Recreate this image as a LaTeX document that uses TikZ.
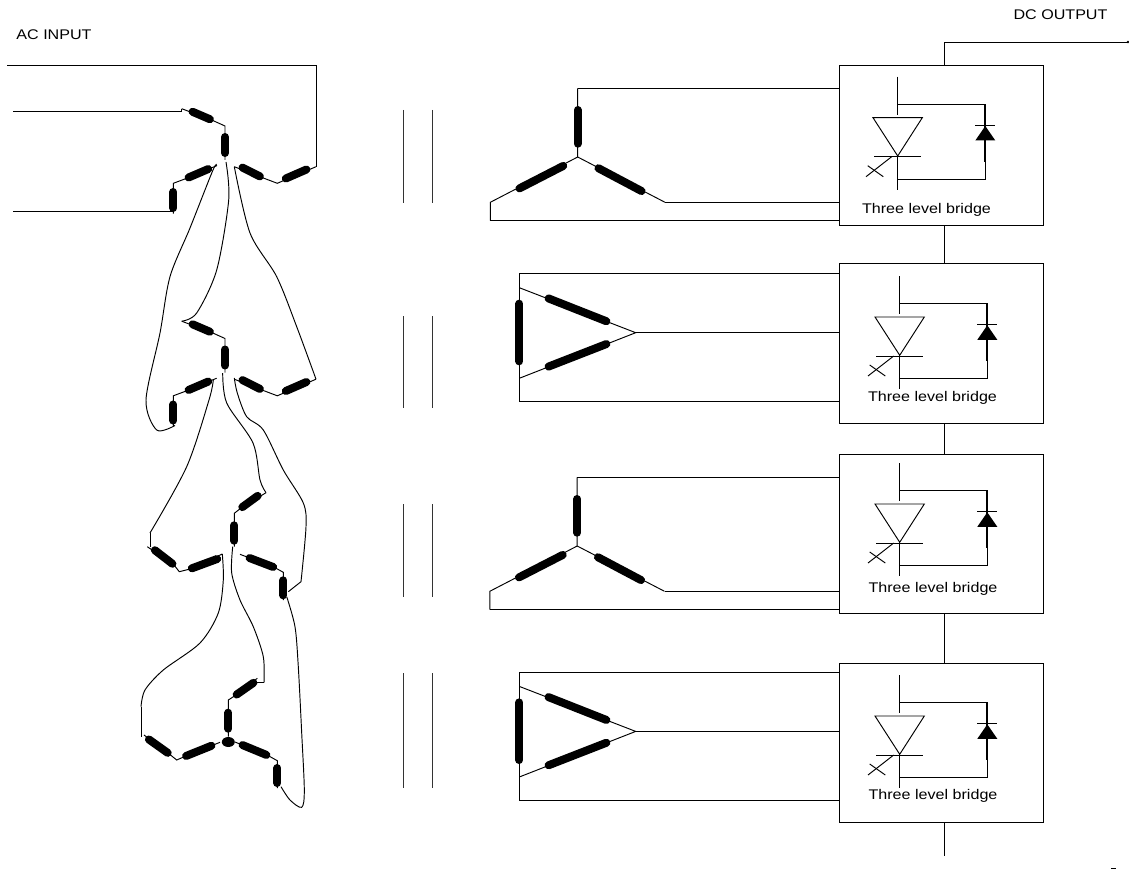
\documentclass[tikz,border=0pt]{standalone}
\usepackage{fontspec}
\setmainfont[FakeStretch=1.15]{Liberation Sans}
\usetikzlibrary{shapes.geometric,positioning}

\begin{document}
\begin{tikzpicture}[x=1pt, y=-1pt]
    \tikzset{
        wire/.style     =   { line width=0.95pt
                            , line join=miter
        }
        , wind/.style   =   { line width=8pt
                            , line cap=round
                            , shorten >= 2pt
                            , shorten <= 2pt
        }
        , box/.style    =   { rectangle
                            , draw=black
                            , line width=1.1pt
                            , minimum width=203.5pt
                            , minimum height=159.5pt
                            , outer sep=0pt
        }
        , lbl/.style    =   { font=\fontsize{14}{16}\selectfont
                            , inner sep=0pt
        }
        , bar/.style    =   { line width=0.9pt
                            , black!80
        }
        , prim/.pic     =   {
            \coordinate (in)  at (181.7,108.7);
            \coordinate (mid) at (225,160);
            \coordinate (a)   at (216.7,165.7);
            \coordinate (c)   at (234.3,166.7);
            \coordinate (lo)  at (173.3,213.7);
            \coordinate (hi)  at (316,166.7);
            \draw[wire] (in) -- (211.7,120) -- (225,126) -- (mid);
            \draw[wire] (a) -- (186.7,178.3) -- (173.3,183.3) -- (lo);
            \draw[wire] (c) -- (263.3,178) -- (277.3,183.3) -- (hi);
            \draw[wind] (190.7,111) -- (211.7,120);
            \draw[wind] (225,135) -- (225,155);
            \draw[wind] (210,168.3) -- (186.7,178.3);
            \draw[wind] (173.3,190) -- (173.3,210);
            \draw[wind] (240.7,166.7) -- (261.7,177.3);
            \draw[wind] (284,179.3) -- (308.3,168.7);
        }
        , wye/.pic      =   {
            \coordinate (n)  at (0,0);
            \coordinate (t)  at (0,-68.7);
            \coordinate (l)  at (-87.4,45.3);
            \coordinate (ll) at (-87.4,63.7);
            \coordinate (r)  at (87.3,45.3);
            \draw[wire] (t) -- (n) -- (l) -- (ll);
            \draw[wire] (n) -- (r);
            \draw[wind] (0,-49) -- (0,-11.3);
            \draw[wind] (-12.7,8) -- (-60,32.3);
            \draw[wind] (19,10.3) -- (65.6,35);
        }
        , delta/.pic    =   {
            \coordinate (t) at (0,0);
            \coordinate (b) at (0,128);
            \coordinate (r) at (116.4,59.4);
            \draw[wire] (t) -- (b);
            \draw[wire] (0,14.4) -- (r) -- (0,105);
            \draw[wind] (0,28.4) -- (0,90);
            \draw[wind] (27.4,24.4) -- (89,48.7);
            \draw[wind] (27.4,94) -- (89,70);
        }
        , cell/.pic     =   {
            \draw[wire] (0,-41) -- (0,-2.7);
            \draw[wire] (-24.7,0) -- (24.6,0) -- (0,38.3) -- cycle;
            \draw[wire] (-23.7,39) -- (23.3,39);
            \draw[wire] (0,38.3) -- (0,72.3);
            \draw[wire] (-6,39) -- (-31.7,59);
            \draw[wire] (-30,48) -- (-14.4,59);
            \draw[wire] (0,-13.4) -- (87.6,-13.4) -- (87.6,61.6) -- (0,61.6);
            \draw[line width=1.9pt] (87.6,-13.4) -- (87.6,44);
            \draw[line width=1.3pt] (77.6,7.6) -- (97.6,7.6);
            \fill (77.6,22.8) -- (97.6,22.8) -- (87.6,8.3) -- cycle;
        }
    }
    \useasboundingbox (0,0) rectangle (1129,869);

    % labels
    \node(ac)[lbl] at (54,35) {AC INPUT};
    \node(dc)[lbl] at (1060.5,15) {DC OUTPUT};

    % bridges
    \node(b1)[box] at (941.4,145.4) {};
    \node(b2)[box] at (941.4,343.6) {};
    \node(b3)[box] at (941.4,534) {};
    \node(b4)[box] at (941.4,743) {};
    \pic at (897.7,117.7) {cell};
    \pic at (899.7,317) {cell};
    \pic at (899.7,504) {cell};
    \pic at (899.7,716) {cell};
    \node(t1)[lbl] at (926.5,209.5) {Three level bridge};
    \node(t2)[lbl] at (932.5,398) {Three level bridge};
    \node(t3)[lbl] at (933,589) {Three level bridge};
    \node(t4)[lbl] at (933,795.5) {Three level bridge};

    % dc bus
    \coordinate (p0) at (944.3,42);
    \coordinate (p1) at (1128,42);
    \coordinate (e)  at (944.3,856);
    \draw[wire] (b1.north -| p0) -- (p0) -- (p1);
    \fill (1128,42) circle (1.3);
    \draw[wire] (b1.south -| p0) -- (b2.north -| p0);
    \draw[wire] (b2.south -| p0) -- (b3.north -| p0);
    \draw[wire] (b3.south -| p0) -- (b4.north -| p0);
    \draw[wire] (b4.south -| p0) -- (e);
    \draw[wire] (1111,868.5) -- (1116,868.5);

    % core bars
    \coordinate (c1t) at (403,110);
    \coordinate (c1b) at (403,203);
    \coordinate (c2t) at (432,110);
    \coordinate (c2b) at (432,203);
    \draw[bar] (c1t) -- (c1b);
    \draw[bar] (c2t) -- (c2b);
    \coordinate (c3t) at (403,316);
    \coordinate (c3b) at (403,408);
    \coordinate (c4t) at (432,316);
    \coordinate (c4b) at (432,408);
    \draw[bar] (c3t) -- (c3b);
    \draw[bar] (c4t) -- (c4b);
    \coordinate (c5t) at (403,504);
    \coordinate (c5b) at (403,597);
    \coordinate (c6t) at (432,504);
    \coordinate (c6b) at (432,597);
    \draw[bar] (c5t) -- (c5b);
    \draw[bar] (c6t) -- (c6b);
    \coordinate (c7t) at (403,673);
    \coordinate (c7b) at (403,788);
    \coordinate (c8t) at (432,673);
    \coordinate (c8b) at (432,788);
    \draw[bar] (c7t) -- (c7b);
    \draw[bar] (c8t) -- (c8b);

    % secondaries
    \pic(w1) at (577.7,157) {wye};
    \draw[wire] (w1t) -- (w1t -| b1.west);
    \draw[wire] (w1r) -- (w1r -| b1.west);
    \draw[wire] (w1ll) -- (w1ll -| b1.west);
    \pic(d1) at (519.3,273.3) {delta};
    \draw[wire] (d1t) -- (d1t -| b2.west);
    \draw[wire] (d1r) -- (d1r -| b2.west);
    \draw[wire] (d1b) -- (d1b -| b2.west);
    \pic(w2) at (577.2,546) {wye};
    \draw[wire] (w2t) -- (w2t -| b3.west);
    \draw[wire] (w2r) -- (w2r -| b3.west);
    \draw[wire] (w2ll) -- (w2ll -| b3.west);
    \pic(d2) at (519.3,672) {delta};
    \draw[wire] (d2t) -- (d2t -| b4.west);
    \draw[wire] (d2r) -- (d2r -| b4.west);
    \draw[wire] (d2b) -- (d2b -| b4.west);

    % primaries, the two upper stars
    \pic(s1) at (0,0) {prim};
    \pic(s2) at (0,212.5) {prim};
    \coordinate (ac0) at (7.3,65.3);
    \coordinate (ac1) at (13,111);
    \coordinate (ac2) at (13,211.7);
    \draw[wire] (ac0) -| (s1hi);
    \draw[wire] (ac1) -- (181.7,111) -- (s1in);
    \draw[wire] (ac2) -- (173.3,211.7);
    \draw[wire] plot[smooth] coordinates {(s1a) (213,170) (190,228) (170,276.7) (160,333) (146,400) (156.7,430) (175,425.5)};
    \draw[wire] plot[smooth] coordinates {(226,162) (228.7,200) (216.7,270) (196.7,313) (s2in)};
    \draw[wire] plot[smooth] coordinates {(s1c) (250,233) (276.7,276.7) (296.7,326.7) (s2hi)};

    % third star
    \coordinate (s3u) at (266,492.7);
    \coordinate (s3m) at (234.3,546.7);
    \coordinate (s3a) at (150,546.7);
    \coordinate (s3b) at (222.3,554);
    \coordinate (s3c) at (240,554.3);
    \coordinate (s3d) at (283.3,600);
    \draw[wire] (s3u) -- (240.7,508.3) -- (234.3,513.3) -- (s3m);
    \draw[wire] (147.3,546.7) -- (174,565) -- (179.3,571.7) -- (190,569) -- (s3b);
    \draw[wire] (s3c) -- (275,567.7) -- (283.3,572.3) -- (s3d);
    \draw[wind] (259.3,494.7) -- (240.7,508.3);
    \draw[wind] (234.3,523.3) -- (234.3,542.7);
    \draw[wind] (153.3,549) -- (174,565);
    \draw[wind] (190,569) -- (219,558.3);
    \draw[wind] (247.7,557.3) -- (275,567.7);
    \draw[wind] (283.3,578.3) -- (283.3,597.3);
    \draw[wire] plot[smooth] coordinates {(213.3,380) (209,400) (186.7,466.7) (150,533)};
    \draw[wire] (150,533) -- (s3a);
    \draw[wire] plot[smooth] coordinates {(222.7,373) (226.7,403) (253,443) (260,480) (s3u)};
    \draw[wire] plot[smooth] coordinates {(234.3,378) (237.3,393) (246.7,416.7) (263.3,430) (283.3,470) (303.3,503) (306,526.7) (301,581.7)};
    \draw[wire] (301,581.7) -- (288.3,591.7);

    % fourth star
    \coordinate (s4u) at (257.3,678.3);
    \coordinate (s4m) at (228.3,736.7);
    \coordinate (s4a) at (144,735);
    \coordinate (s4b) at (220,742.3);
    \coordinate (s4c) at (235,742);
    \coordinate (s4d) at (277.3,788);
    \node(s4n)[ellipse, fill=black, minimum width=13pt, minimum height=10pt, inner sep=0pt] at (228.3,742) {};
    \draw[wire] (s4u) -- (235,695.7) -- (228.3,700) -- (s4m);
    \draw[wire] (s4a) -- (169.3,754) -- (176.7,760) -- (184.3,756.7) -- (s4b);
    \draw[wire] (s4c) -- (268.3,755.7) -- (277.3,760.7) -- (s4d);
    \draw[wind] (255,681.7) -- (235,695.7);
    \draw[wind] (228.3,710.7) -- (228.3,730.7);
    \draw[wind] (147.3,738.3) -- (169.3,754);
    \draw[wind] (184.3,756.7) -- (213.3,745);
    \draw[wind] (240.7,744.3) -- (268.3,755.7);
    \draw[wind] (277.3,766) -- (277.3,785);
    \draw[wire] plot[smooth] coordinates {(s3b) (223.3,580) (218.3,613) (200,643) (163.3,670) (145,690) (141,706.7)};
    \draw[wire] (141,706.7) -- (141,737.3);
    \draw[wire] plot[smooth] coordinates {(232.7,546.7) (231.7,573) (240,600) (253.3,626.7) (263.3,656.7) (264,682.7)};
    \draw[wire] (264,682.7) -- (257.3,682.7);
    \draw[wire] plot[smooth] coordinates {(286.7,596.7) (295,626.7) (298.3,666.7) (301.7,733) (304.3,790) (301.7,807.3) (290,800) (281,786.7)};
\end{tikzpicture}
\end{document}
